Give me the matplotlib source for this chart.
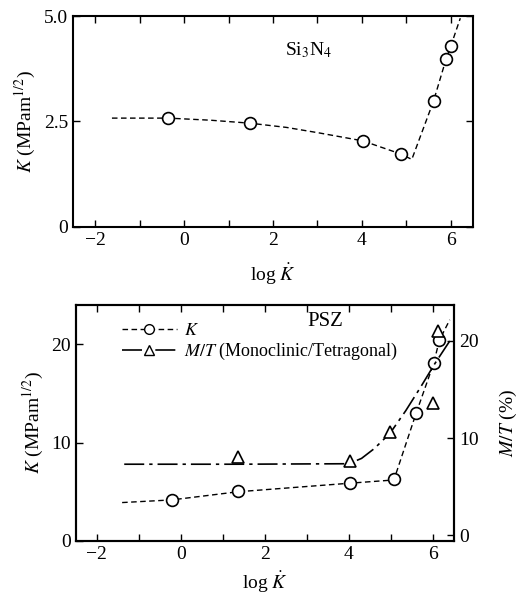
import numpy as np
import matplotlib
matplotlib.use('Agg')
import matplotlib.pyplot as plt
from matplotlib.lines import Line2D

plt.rcParams['font.family'] = ['Liberation Serif', 'DejaVu Serif']
plt.rcParams['mathtext.fontset'] = 'stix'

# Si3N4 measured points
si_x = [-0.35, 1.48, 4.02, 4.87, 5.61, 5.89, 6.0]
si_k = [2.59, 2.46, 2.04, 1.73, 2.99, 3.98, 4.30]
# Si3N4 fitted curve
si_fit_x = [-1.62, -0.35, 0.6, 1.48, 2.3, 3.03, 4.02, 4.87, 5.12, 5.61, 5.89, 6.0, 6.21]
si_fit_k = [2.58, 2.58, 2.53, 2.46, 2.36, 2.23, 2.04, 1.73, 1.60, 2.99, 3.98, 4.30, 4.95]

# PSZ measured points
psz_x = [-0.22, 1.36, 4.02, 5.07, 5.6, 6.02, 6.15]
psz_k = [4.17, 5.09, 5.87, 6.3, 13.0, 18.1, 20.4]
psz_fit_x = [-1.4, -0.22, 1.36, 4.02, 5.07, 5.6, 6.02, 6.15, 6.4]
psz_fit_k = [3.9, 4.17, 5.0, 5.87, 6.2, 13.0, 18.1, 20.4, 22.5]

# M/T ratio (%)
mt_x = [1.35, 4.02, 4.98, 6.0, 6.13]
mt_val = [8.0, 7.65, 10.6, 13.65, 21.0]
mt_fit_x = [-1.35, 1.35, 4.0, 4.3, 4.6, 4.98, 5.35, 5.7, 6.05, 6.4]
mt_fit_val = [7.3, 7.3, 7.35, 7.9, 8.9, 10.5, 12.8, 15.2, 17.7, 20.0]

fs = 14
dash_k = (0, (4, 2.5))
dash_mt = (0, (12, 3, 2, 3))

fig = plt.figure(figsize=(5.2, 5.97), dpi=100)

def style(ax, right=True):
    ax.set_xlim(-2.5, 6.5)
    ax.set_xticks([-2, 0, 2, 4, 6])
    ax.set_xticklabels(['\u22122', '0', '2', '4', '6'])
    ax.set_xticks(np.arange(-2, 7, 1), minor=True)
    ax.tick_params(which='both', direction='in', top=True, right=right,
                   length=5, width=1, labelsize=fs)
    for s in ax.spines.values():
        s.set_linewidth(1.5)

# top panel
ax1 = fig.add_axes([0.140, 0.620, 0.770, 0.353])
ax1.plot(si_fit_x, si_fit_k, color='black', lw=1.0, ls=dash_k)
ax1.plot(si_x, si_k, ls='none', marker='o', ms=8.5, mfc='white', mec='black', mew=1.2)
style(ax1)
ax1.set_ylim(0, 5.0)
ax1.set_yticks([0, 2.5, 5.0])
ax1.set_yticklabels(['0', '2.5', '5.0'])
ax1.set_ylabel('$K$ (MPam$^{1/2}$)', fontsize=fs)
ax1.set_xlabel('log $\\dot{K}$', fontsize=fs, labelpad=9)
ax1.text(0.59, 0.84, 'Si$_3$N$_4$', transform=ax1.transAxes, ha='center', va='center', fontsize=14)

# bottom panel
ax2 = fig.add_axes([0.146, 0.094, 0.727, 0.395])
ax2.plot(psz_fit_x, psz_fit_k, color='black', lw=1.0, ls=dash_k)
ax2.plot(psz_x, psz_k, ls='none', marker='o', ms=8.5, mfc='white', mec='black', mew=1.2)
style(ax2, right=False)
ax2.set_ylim(0, 24)
ax2.set_yticks([0, 10, 20])
ax2.set_ylabel('$K$ (MPam$^{1/2}$)', fontsize=fs)
ax2.set_xlabel('log $\\dot{K}$', fontsize=fs, labelpad=5)

ax3 = ax2.twinx()
ax3.plot(mt_fit_x, mt_fit_val, color='black', lw=1.2, ls=dash_mt)
ax3.plot(mt_x, mt_val, ls='none', marker='^', ms=9, mfc='white', mec='black', mew=1.2)
ax3.set_ylim(-0.6, 23.7)
ax3.set_yticks([0, 10, 20])
ax3.tick_params(direction='in', length=5, width=1, labelsize=fs)
ax3.set_ylabel('$M/T$ (%)', fontsize=fs, rotation=90, labelpad=14)
for s in ax3.spines.values():
    s.set_linewidth(1.5)

ax2.text(0.66, 0.93, 'PSZ', transform=ax2.transAxes, ha='center', va='center', fontsize=15)

handles = [
    Line2D([], [], color='black', lw=1.0, ls=dash_k, marker='o', ms=7, mfc='white', mec='black'),
    Line2D([], [], color='black', lw=1.2, ls=dash_mt, marker='^', ms=7, mfc='white', mec='black'),
]
ax2.legend(handles, ['$K$', '$M/T$ (Monoclinic/Tetragonal)'], loc='upper left',
           bbox_to_anchor=(0.08, 0.995), frameon=False, fontsize=13,
           handlelength=3.0, handletextpad=0.4, labelspacing=0.1)

fig.savefig('out.png', dpi=100)
